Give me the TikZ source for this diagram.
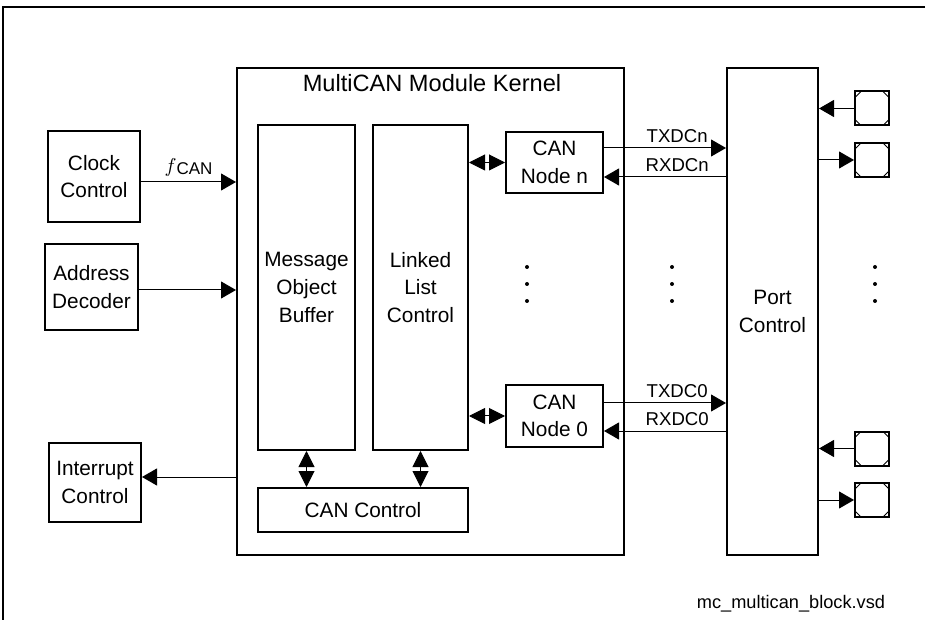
\documentclass[tikz,border=0pt]{standalone}
\usepackage{fontspec}
\setmainfont{Liberation Sans}
\usetikzlibrary{arrows.meta}
\tikzset{
	blk/.style={draw, line width=1pt, align=center, inner sep=0pt},
	sig/.style={line width=0.5pt, -{Triangle[length=7.5pt,width=8.5pt]}},
	bidir/.style={line width=0.5pt, {Triangle[length=8pt,width=8pt]}-{Triangle[length=8pt,width=8pt]}},
	pin/.style={draw, line width=1pt, minimum size=17pt, inner sep=0pt,
		path picture={
			\draw[line width=0.5pt] ([xshift=3pt]path picture bounding box.north west) -- ([yshift=-3pt]path picture bounding box.north west);
			\draw[line width=0.5pt] ([xshift=-3pt]path picture bounding box.north east) -- ([yshift=-3pt]path picture bounding box.north east);
			\draw[line width=0.5pt] ([xshift=3pt]path picture bounding box.south west) -- ([yshift=3pt]path picture bounding box.south west);
			\draw[line width=0.5pt] ([xshift=-3pt]path picture bounding box.south east) -- ([yshift=3pt]path picture bounding box.south east);
		}},
	lbl/.style={above, inner sep=2.5pt, font=\fontsize{9.3}{11}\selectfont}
}

\begin{document}
\begin{tikzpicture}[x=0.5pt, y=-0.5pt, font=\fontsize{10.4}{13.8}\selectfont]
		\useasboundingbox (0,0) rectangle (927,620);
		\draw[line width=0.75pt] (925,7) -- (3,7) -- (3,620);
		\node[blk, minimum width=46pt, minimum height=45.5pt] (clk) at (94,176.5) {Clock\\Control};
		\node[blk, minimum width=46.5pt, minimum height=43pt] (addr) at (91.5,287) {Address\\Decoder};
		\node[blk, minimum width=46pt, minimum height=39.5pt] (intr) at (95,482.5) {Interrupt\\Control};
		\node[blk, minimum width=193.5pt, minimum height=243.5pt] (kern) at (430.5,311.5) {};
		\node[font=\fontsize{11.8}{14}\selectfont] (ktitle) at (432,83) {MultiCAN Module Kernel};
		\node[blk, minimum width=48.5pt, minimum height=162.5pt] (mob) at (306.5,287.5) {Message\\Object\\Buffer};
		\node[blk, minimum width=47.5pt, minimum height=162.5pt] (llc) at (420.5,287.5) {Linked\\List\\Control};
		\node[blk, minimum width=48.5pt, minimum height=30.5pt] (cann) at (554.5,162.5) {CAN\\Node n};
		\node[blk, minimum width=48.5pt, minimum height=31pt] (cano) at (554.5,416) {CAN\\Node 0};
		\node[blk, minimum width=105pt, minimum height=22pt] (canctl) at (363,510) {CAN Control};
		\node[blk, minimum width=45.5pt, minimum height=243.5pt] (port) at (772.5,311.5) {Port\\Control};
		\foreach \n/\y in {a/108.5, b/160, c/448.5, d/500}
			\node[pin] (pin\n) at (872,\y) {};
		\draw[sig] ([yshift=-2.75pt]clk.east) -- ([yshift=-2.75pt]clk.east -| kern.west) node[midway, lbl, font=\fontsize{10.4}{12}\selectfont] {$f$\raisebox{-1pt}{\fontsize{8.5}{10}\selectfont CAN}};
		\draw[sig] ([yshift=-1.5pt]addr.east) -- ([yshift=-1.5pt]addr.east -| kern.west);
		\draw[sig] ([yshift=2.75pt]intr.east -| kern.west) -- ([yshift=2.75pt]intr.east);
		\draw[bidir] (llc.east |- cann.west) -- (cann.west);
		\draw[bidir] (llc.east |- cano.west) -- (cano.west);
		\draw[bidir] (mob.south) -- (mob.south |- canctl.north);
		\draw[bidir] (llc.south) -- (llc.south |- canctl.north);
		\draw[sig] ([yshift=7.25pt]cann.east) -- ([yshift=7.25pt]cann.east -| port.west) node[pos=0.6, lbl] {TXDCn};
		\draw[sig] ([yshift=-7.25pt]cann.east -| port.west) -- ([yshift=-7.25pt]cann.east) node[pos=0.4, lbl] {RXDCn};
		\draw[sig] ([yshift=6.5pt]cano.east) -- ([yshift=6.5pt]cano.east -| port.west) node[pos=0.6, lbl] {TXDC0};
		\draw[sig] ([yshift=-7.5pt]cano.east -| port.west) -- ([yshift=-7.5pt]cano.east) node[pos=0.4, lbl] {RXDC0};
		\draw[sig] (pina.west) -- (pina.west -| port.east);
		\draw[sig] (pinb.west -| port.east) -- (pinb.west);
		\draw[sig] (pinc.west) -- (pinc.west -| port.east);
		\draw[sig] (pind.west -| port.east) -- (pind.west);
		\foreach \x in {527, 672, 875}
			\foreach \y in {267, 284, 301}
				\fill (\x,\y) circle (1pt);
		\node[font=\fontsize{9.1}{11}\selectfont] (fname) at (791,604) {mc\_multican\_block.vsd};
	\end{tikzpicture}
\end{document}
